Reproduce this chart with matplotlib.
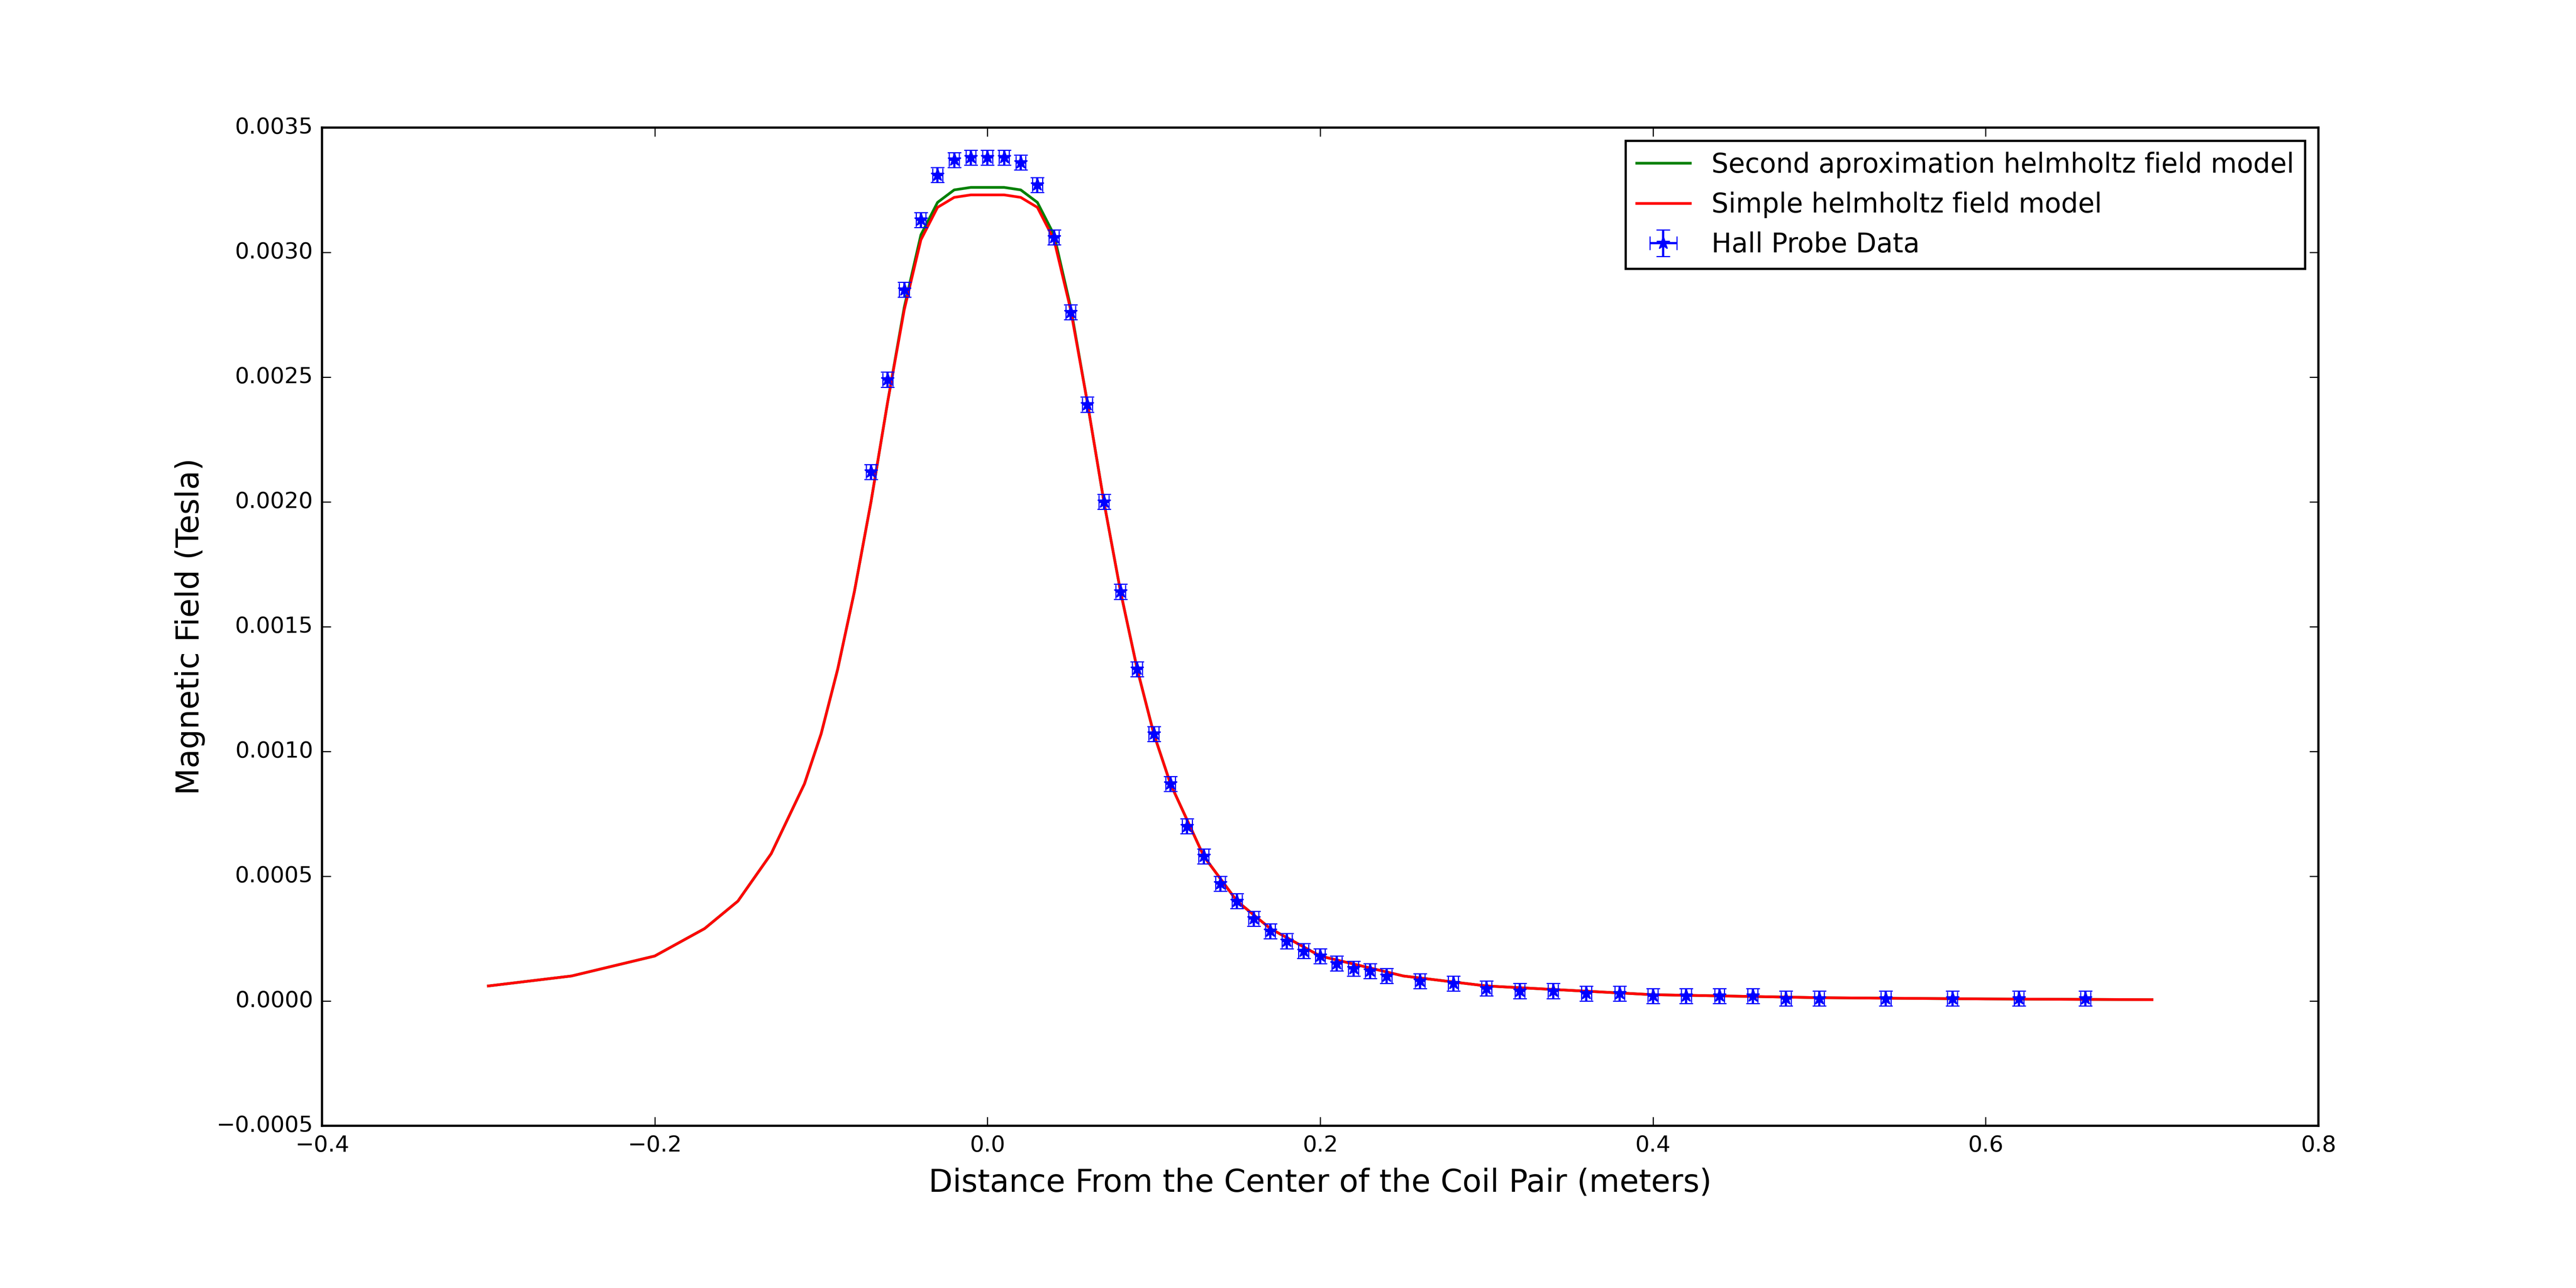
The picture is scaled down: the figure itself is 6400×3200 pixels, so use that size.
import numpy as np
import matplotlib.pyplot as plt

plt.style.use('classic')

# model curves
x_model = [-0.30, -0.25, -0.20, -0.17, -0.15, -0.13, -0.11, -0.10, -0.09, -0.08, -0.07,
           -0.06, -0.05, -0.04, -0.03, -0.02, -0.01, 0.00, 0.01, 0.02, 0.03, 0.04, 0.05,
           0.06, 0.07, 0.08, 0.09, 0.10, 0.11, 0.13, 0.15, 0.17, 0.20, 0.25, 0.30, 0.40,
           0.50, 0.60, 0.70]
b_simple = [0.00006, 0.00010, 0.00018, 0.00029, 0.00040, 0.00059, 0.00087, 0.00107,
            0.00133, 0.00164, 0.00200, 0.00240, 0.00277, 0.00305, 0.00318, 0.00322,
            0.00323, 0.00323, 0.00323, 0.00322, 0.00318, 0.00305, 0.00277, 0.00240,
            0.00200, 0.00164, 0.00133, 0.00107, 0.00087, 0.00058, 0.00040, 0.00029,
            0.00018, 0.00010, 0.00006, 0.000025, 0.000013, 0.000008, 0.000005]
b_second = [0.00006, 0.00010, 0.00018, 0.00029, 0.00040, 0.00059, 0.00087, 0.00107,
            0.00133, 0.00164, 0.00200, 0.00240, 0.00278, 0.00307, 0.00320, 0.00325,
            0.00326, 0.00326, 0.00326, 0.00325, 0.00320, 0.00307, 0.00278, 0.00240,
            0.00200, 0.00164, 0.00133, 0.00107, 0.00087, 0.00058, 0.00040, 0.00029,
            0.00018, 0.00010, 0.00006, 0.000025, 0.000013, 0.000008, 0.000005]

# Hall probe data
x_data = [-0.07, -0.06, -0.05, -0.04, -0.03, -0.02, -0.01, 0.00, 0.01, 0.02, 0.03, 0.04,
          0.05, 0.06, 0.07, 0.08, 0.09, 0.10, 0.11, 0.12, 0.13, 0.14, 0.15, 0.16, 0.17,
          0.18, 0.19, 0.20, 0.21, 0.22, 0.23, 0.24, 0.26, 0.28, 0.30, 0.32, 0.34, 0.36,
          0.38, 0.40, 0.42, 0.44, 0.46, 0.48, 0.50, 0.54, 0.58, 0.62, 0.66]
b_data = [0.00212, 0.00249, 0.00285, 0.00313, 0.00331, 0.00337, 0.00338, 0.00338,
          0.00338, 0.00336, 0.00327, 0.00306, 0.00276, 0.00239, 0.00200, 0.00164,
          0.00133, 0.00107, 0.00087, 0.00070, 0.00058, 0.00047, 0.00040, 0.00033,
          0.00028, 0.00024, 0.00020, 0.00018, 0.00015, 0.00013, 0.00012, 0.00010,
          0.00008, 0.00007, 0.00005, 0.00004, 0.00004, 0.00003, 0.00003, 0.00002,
          0.00002, 0.00002, 0.00002, 0.00001, 0.00001, 0.00001, 0.00001, 0.00001, 0.00001]

fig = plt.figure(figsize=(16, 8), facecolor='white')
ax = fig.add_axes([0.125, 0.126, 0.775, 0.775])
ax.plot(x_model, b_second, color='g', lw=1.2, label='Second aproximation helmholtz field model')
ax.plot(x_model, b_simple, color='r', lw=1.2, label='Simple helmholtz field model')
ax.errorbar(x_data, b_data, xerr=0.003, yerr=0.00003, fmt='b*', ms=6, mec='b',
            ecolor='b', capsize=3, label='Hall Probe Data')
ax.set_xlim(-0.4, 0.8)
ax.set_ylim(-0.0005, 0.0035)
ax.set_xlabel('Distance From the Center of the Coil Pair (meters)', fontsize=14)
ax.set_ylabel('Magnetic Field (Tesla)', fontsize=14)
ax.tick_params(labelsize=10)
ax.legend(loc='upper right', fontsize=12, numpoints=1)
fig.savefig('out.png', dpi=400, facecolor='white')
